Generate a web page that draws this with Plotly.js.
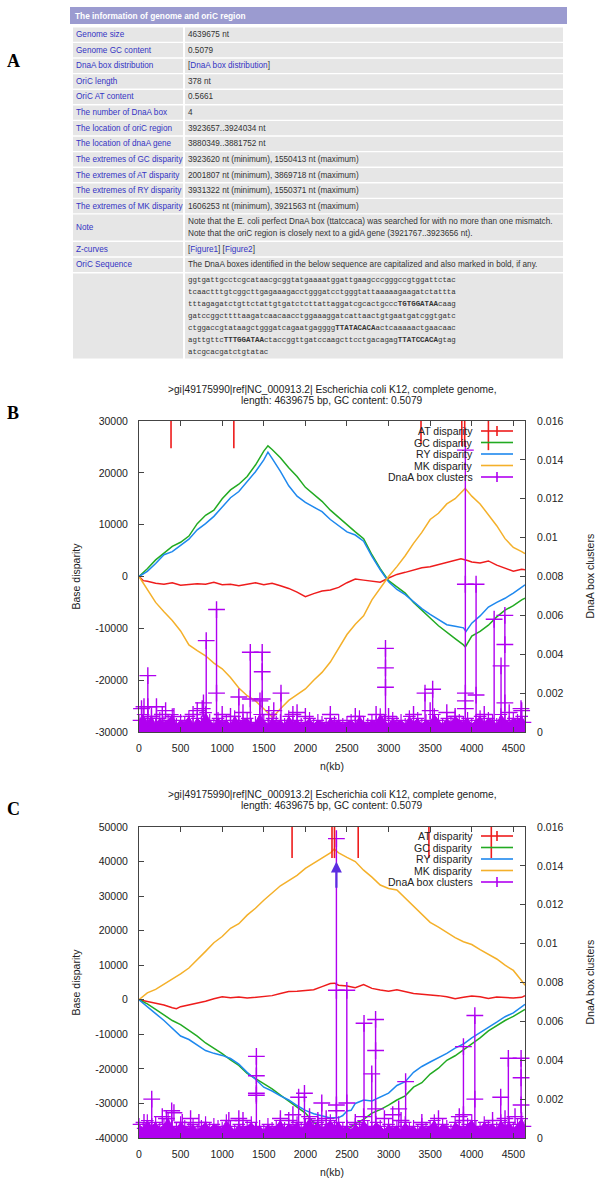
<!DOCTYPE html>
<html><head><meta charset="utf-8">
<script src="https://cdn.plot.ly/plotly-3.0.1.min.js"></script>
<style>html,body{margin:0;padding:0;background:#fff}#chart{width:600px;height:1184px}</style>
</head><body><div id="chart"></div>
<script>
// ---------------- TABLE DATA ----------------
const tableTitle = "The information of genome and oriC region";
const tableLabels = ["Genome size","Genome GC content","DnaA box distribution","OriC length","OriC AT content","The number of DnaA box","The location of oriC region","The location of dnaA gene","The extremes of GC disparity","The extremes of AT disparity","The extremes of RY disparity","The extremes of MK disparity","Note","Z-curves","OriC Sequence"];
const tableValues = ["4639675 nt","0.5079","[DnaA box distribution]","378 nt","0.5661","4","3923657..3924034 nt","3880349..3881752 nt","3923620 nt (minimum), 1550413 nt (maximum)","2001807 nt (minimum), 3869718 nt (maximum)","3931322 nt (minimum), 1550371 nt (maximum)","1606253 nt (minimum), 3921563 nt (maximum)","Note that the E. coli perfect DnaA box (ttatccaca) was searched for with no more than one mismatch.|Note that the oriC region is closely next to a gidA gene (3921767..3923656 nt).","[Figure1] [Figure2]","The DnaA boxes identified in the below sequence are capitalized and also marked in bold, if any."];
const oricSequence = ["ggtgattgcctcgcataacgcggtatgaaaatggattgaagcccgggccgtggattctac","tcaactttgtcggcttgagaaagacctgggatcctgggtattaaaaagaagatctattta","tttagagatctgttctattgtgatctcttattaggatcgcactgcccTGTGGATAAcaag","gatccggcttttaagatcaacaacctggaaaggatcattaactgtgaatgatcggtgatc","ctggaccgtataagctgggatcagaatgaggggTTATACACAactcaaaaactgaacaac","agttgttcTTTGGATAActaccggttgatccaagcttcctgacagagTTATCCACAgtag","atcgcacgatctgtatac"];

// ---------------- CHART TEXT ----------------
const chartTitle1 = "&gt;gi|49175990|ref|NC_000913.2| Escherichia coli K12, complete genome,";
const chartTitle2 = "length: 4639675 bp, GC content: 0.5079";
const seriesNames = ["AT disparity","GC disparity","RY disparity","MK disparity","DnaA box clusters"];
const xTickVals = [0,500,1000,1500,2000,2500,3000,3500,4000,4500];
const yTickB = [-30000,-20000,-10000,0,10000,20000,30000];
const yTickC = [-40000,-30000,-20000,-10000,0,10000,20000,30000,40000,50000];
const y2TickVals = [0,0.002,0.004,0.006,0.008,0.01,0.012,0.014,0.016];
const y2TickText = ["0","0.002","0.004","0.006","0.008","0.01","0.012","0.014","0.016"];

// ---------------- PANEL B DATA (x in kb) ----------------
const bAT_x = [0,50,100,200,300,400,500,600,700,800,900,1000,1100,1200,1300,1400,1500,1600,1700,1800,1900,2000,2100,2200,2300,2400,2500,2600,2700,2800,2900,3000,3100,3200,3300,3400,3500,3600,3700,3800,3870,3950,4000,4100,4200,4300,4400,4500,4600,4640];
const bAT_y = [0,-800,-900,-1300,-1500,-1200,-1700,-1600,-1400,-1500,-1100,-1600,-1500,-1800,-1500,-1200,-1600,-1300,-1800,-2300,-3000,-3900,-3300,-2800,-2600,-2100,-1200,-500,-700,-900,-1100,-300,400,800,1300,1700,1900,2300,2600,3000,3400,3100,2800,2600,3000,2200,1600,1000,1400,1300];
const bGC_x = [0,100,200,300,400,500,600,700,800,900,1000,1100,1200,1300,1400,1500,1550,1600,1700,1800,1900,2000,2100,2200,2300,2400,2500,2600,2700,2800,2900,3000,3100,3200,3300,3400,3500,3600,3700,3800,3900,3923,4000,4100,4200,4300,4400,4500,4600,4640];
const bGC_y = [0,1500,3200,4500,5800,6600,7800,10200,11800,12800,15000,16700,17800,19300,21500,24200,25200,24500,22900,21000,19300,17200,15800,14500,12800,11400,9900,8600,7300,4200,1500,-800,-2000,-3200,-5000,-6600,-8000,-9500,-10800,-12000,-13200,-13600,-11500,-10600,-9400,-7800,-6500,-5600,-4500,-4200];
const bRY_x = [0,100,200,300,400,500,600,700,800,900,1000,1100,1200,1300,1400,1500,1550,1600,1700,1800,1900,2000,2100,2200,2300,2400,2500,2600,2700,2800,2900,3000,3100,3200,3300,3400,3500,3600,3700,3800,3900,3931,4000,4100,4200,4300,4400,4500,4600,4640];
const bRY_y = [0,1000,2500,4200,4800,6000,7200,9000,10200,11600,13500,15200,16400,18200,20200,22500,24000,22800,20300,17500,15500,14300,13400,12500,11000,9800,8600,8000,6800,3900,1300,-1000,-2500,-3500,-4800,-6200,-7300,-8300,-9300,-9600,-9900,-10600,-9000,-7600,-5900,-5000,-4200,-3200,-2000,-1600];
const bMK_x = [0,100,200,300,400,500,600,700,800,900,1000,1100,1200,1300,1400,1500,1606,1700,1800,1900,2000,2100,2200,2300,2400,2500,2600,2700,2800,2900,3000,3100,3200,3300,3400,3500,3600,3700,3800,3921,4000,4100,4200,4300,4400,4500,4600,4640];
const bMK_y = [0,-2500,-5000,-6800,-8500,-10500,-13200,-14300,-15300,-16700,-17800,-19500,-21500,-23000,-24000,-25500,-27200,-25500,-23900,-22800,-21700,-20000,-18500,-16500,-13800,-11200,-9200,-7600,-4500,-2300,0,1900,4000,6400,8500,11000,12200,14000,15000,17000,15500,14000,12000,9800,7300,5600,4800,4400];
// DnaA box clusters, panel B
const bandX = [0,50,100,150,200,250,300,350,400,450,500,550,600,650,700,750,800,850,900,950,1000,1050,1100,1150,1200,1250,1300,1350,1400,1450,1500,1550,1600,1650,1700,1750,1800,1850,1900,1950,2000,2050,2100,2150,2200,2250,2300,2350,2400,2450,2500,2550,2600,2650,2700,2750,2800,2850,2900,2950,3000,3050,3100,3150,3200,3250,3300,3350,3400,3450,3500,3550,3600,3650,3700,3750,3800,3850,3900,3950,4000,4050,4100,4150,4200,4250,4300,4350,4400,4450,4500,4550,4600,4640];
const bBand = [0.0006,0.0009,0.0005,0.0008,0.0004,0.0007,0.0005,0.0006,0.0009,0.0004,0.0006,0.0005,0.0008,0.0004,0.0007,0.0005,0.0010,0.0006,0.0004,0.0007,0.0005,0.0006,0.0004,0.0008,0.0005,0.0006,0.0007,0.0004,0.0005,0.0009,0.0006,0.0004,0.0007,0.0005,0.0006,0.0004,0.0008,0.0005,0.0006,0.0004,0.0005,0.0007,0.0004,0.0006,0.0005,0.0004,0.0007,0.0005,0.0006,0.0004,0.0005,0.0006,0.0004,0.0008,0.0005,0.0004,0.0006,0.0005,0.0009,0.0006,0.0004,0.0007,0.0005,0.0006,0.0004,0.0008,0.0005,0.0007,0.0004,0.0006,0.0005,0.0009,0.0006,0.0004,0.0007,0.0005,0.0008,0.0006,0.0005,0.0007,0.0004,0.0006,0.0008,0.0005,0.0007,0.0006,0.0004,0.0009,0.0006,0.0005,0.0007,0.0006,0.0008,0.0005];
const bSpike_x = [106,210,775,808,932,1200,1338,1454,1481,1707,2963,3438,3530,3923,4052,4269,4352,4398,4592];
const bSpike_y = [0.0029,0.0013,0.0015,0.0047,0.0063,0.0018,0.0041,0.0016,0.0041,0.0020,0.0043,0.0020,0.0022,0.0145,0.0076,0.0058,0.0034,0.0060,0.0012];
const bCross_x = [106,106,1481,1481,1338,932,2963,2963,3923,3923,3923,3923,4052,4398,4398,30,60,150,280,320,420,650,700,760,1000,1100,1250,1560,1620,1850,1900,2000,2300,2600,2850,3000,3300,3500,3700,3800,4150,4450,4600];
const bCross_y = [0.0013,0.0007,0.0031,0.0017,0.0017,0.0020,0.0033,0.0023,0.0076,0.0020,0.0016,0.0012,0.0019,0.0045,0.0015,0.0012,0.0013,0.0008,0.0009,0.0011,0.0008,0.0009,0.0011,0.0012,0.0009,0.0008,0.0010,0.0009,0.0011,0.0009,0.0010,0.0008,0.0009,0.0008,0.0009,0.0008,0.0009,0.0011,0.0010,0.0008,0.0009,0.0010,0.0011];
const bTopMark_x = [385,1140,3390,3880,3915,4200];
const bTopMark_low = [0.0146,0.0146,0.0148,0.0147,0.0147,0.0145];

// ---------------- PANEL C DATA (x in kb) ----------------
const cAT_x = [0,100,200,300,400,450,500,600,700,800,900,1000,1100,1200,1300,1400,1500,1600,1700,1800,1900,2000,2100,2200,2300,2350,2400,2500,2600,2700,2800,2900,3000,3100,3200,3300,3400,3500,3600,3700,3800,3900,4000,4100,4200,4300,4400,4500,4600,4640];
const cAT_y = [0,-500,-800,-1500,-2300,-2600,-2000,-1500,-1000,-400,300,900,600,800,500,700,900,1200,1800,2400,2500,2700,2900,3800,4700,4800,4200,4000,3500,4400,3300,2800,2500,2900,2300,1800,1600,1500,1200,900,300,700,1100,900,400,800,600,500,700,1200];
const cGC_x = [0,100,200,300,400,500,600,700,800,900,1000,1100,1200,1300,1400,1500,1600,1700,1800,1900,2000,2100,2200,2300,2346,2400,2500,2600,2700,2800,2900,3000,3100,3200,3300,3400,3500,3600,3700,3800,3900,4000,4100,4200,4300,4400,4500,4600,4640];
const cGC_y = [0,-1200,-2800,-4500,-6000,-7200,-8800,-10500,-12500,-14000,-15600,-17400,-19000,-21300,-22800,-24400,-25800,-27600,-29300,-31200,-32800,-35500,-37000,-38500,-39000,-38800,-37800,-35800,-34600,-32800,-31800,-30500,-29000,-27800,-25300,-24000,-21500,-19800,-17500,-16200,-14500,-12800,-11000,-9000,-7500,-6000,-4800,-3300,-2800];
const cRY_x = [0,100,200,300,400,500,600,700,800,900,1000,1100,1200,1300,1400,1500,1600,1700,1800,1900,2000,2100,2200,2300,2400,2450,2500,2550,2600,2700,2800,2900,3000,3100,3200,3300,3400,3500,3600,3700,3800,3900,4000,4100,4200,4300,4400,4500,4600,4640];
const cRY_y = [0,-1900,-4000,-6000,-8300,-10500,-11500,-13000,-14700,-15500,-16100,-17000,-18600,-21000,-23000,-25300,-26400,-27800,-29000,-30600,-32000,-33000,-33500,-34200,-34100,-33500,-32200,-32000,-30000,-29000,-29300,-28200,-27000,-24800,-23700,-21000,-19300,-18000,-16800,-15500,-14000,-12800,-11000,-9400,-8000,-6500,-4900,-3800,-2000,-1300];
const cMK_x = [0,100,200,300,400,500,600,700,800,900,1000,1100,1200,1300,1400,1500,1600,1700,1800,1900,2000,2100,2200,2300,2346,2400,2500,2600,2700,2800,2900,3000,3100,3200,3300,3400,3500,3600,3700,3800,3900,4000,4100,4200,4300,4400,4500,4600,4640];
const cMK_y = [0,2000,3000,4500,5800,7500,9200,11500,14000,16500,18300,20700,22000,24500,26500,28800,31000,33000,34500,36000,38000,39500,41000,42500,43600,42500,41200,40000,37500,35500,33200,32200,31800,29500,27200,25000,22400,21000,19500,18000,16800,16000,14500,13200,11800,10000,8500,5500,4200];
const cBand = [0.0007,0.0005,0.0009,0.0006,0.0008,0.0005,0.0007,0.0010,0.0006,0.0005,0.0008,0.0006,0.0005,0.0007,0.0004,0.0006,0.0008,0.0005,0.0007,0.0006,0.0005,0.0009,0.0006,0.0004,0.0007,0.0005,0.0006,0.0008,0.0005,0.0006,0.0004,0.0007,0.0005,0.0006,0.0009,0.0005,0.0007,0.0006,0.0008,0.0005,0.0007,0.0010,0.0006,0.0008,0.0005,0.0007,0.0009,0.0006,0.0008,0.0005,0.0006,0.0004,0.0007,0.0005,0.0009,0.0006,0.0005,0.0008,0.0006,0.0004,0.0007,0.0005,0.0006,0.0004,0.0008,0.0005,0.0006,0.0004,0.0007,0.0005,0.0006,0.0009,0.0005,0.0007,0.0006,0.0004,0.0008,0.0006,0.0005,0.0007,0.0009,0.0006,0.0005,0.0008,0.0006,0.0007,0.0005,0.0009,0.0006,0.0008,0.0005,0.0007,0.0010,0.0006];
const cSpike_x = [153,393,1411,1919,1989,2197,2373,2498,2705,2798,2844,3122,3205,3900,4037,4348,4440,4593];
const cSpike_y = [0.0020,0.0014,0.0042,0.0021,0.0023,0.0018,0.0154,0.0076,0.0059,0.0033,0.0061,0.0015,0.0029,0.0047,0.0063,0.0021,0.0041,0.0041];
const cCross_x = [153,1411,1411,1411,2373,2373,2373,2844,2844,4037,4593,4593,3900,3900,2498,60,280,330,420,520,620,720,1080,1200,1250,1700,1800,1850,2050,2150,2250,2600,2700,2950,3050,3150,3400,3600,3850,4250,4400,4520];
const cCross_y = [0.0006,0.0032,0.0023,0.0022,0.0076,0.0017,0.0014,0.0045,0.0015,0.0020,0.0031,0.0017,0.0012,0.0009,0.0018,0.0008,0.0011,0.0010,0.0013,0.0008,0.0010,0.0008,0.0009,0.0010,0.0009,0.0010,0.0009,0.0012,0.0011,0.0009,0.0010,0.0008,0.0011,0.0010,0.0012,0.0009,0.0008,0.0010,0.0011,0.0009,0.0010,0.0011];
const cTopMark_x = [1840,2320,2350,2635,3485,4235];
const cTopMark_low = [0.0144,0.0144,0.0144,0.0144,0.0144,0.0144];
const cArrow = {x:2373, from:32000, to:40000};

// ---------------- STYLE / LAYOUT HELPERS ----------------
const W = 600, H = 1184;
const PX = p => p / W, PY = p => 1 - p / H;
const SANS = '"Liberation Sans", Arial, sans-serif';
const MONO = '"Liberation Mono", "DejaVu Sans Mono", monospace';
const SERIF = '"Liberation Serif", "DejaVu Serif", serif';
const COLORS = ['#ee1c1c', '#22aa22', '#1e88ee', '#f4b02a', '#b000f0'];
const LINK = '#3434c4';
const CELL = '#e6e6e6';
const TFONT = 8.2;
const shapes = [], annotations = [];

function rect(x0, y0, x1, y1, color) {
  shapes.push({type:'rect', xref:'paper', yref:'paper', x0:PX(x0), x1:PX(x1), y0:PY(y1), y1:PY(y0), fillcolor:color, line:{width:0}, layer:'below'});
}
function seg(x0, y0, x1, y1, color, w) {
  shapes.push({type:'line', xref:'paper', yref:'paper', x0:PX(x0), x1:PX(x1), y0:PY(y0), y1:PY(y1), line:{color:color, width:w||1.5}});
}
function txt(t, x, y, opts) {
  annotations.push(Object.assign({text:t, x:PX(x), y:PY(y), xref:'paper', yref:'paper', showarrow:false, xanchor:'left', yanchor:'middle', borderpad:0, font:{family:SANS, size:TFONT, color:'#333'}}, opts || {}));
}
const linkify = s => s.replace(/\[([^\]]+)\]/g, '[<span style="color:' + LINK + '">$1</span>]');
const boldCaps = s => s.replace(/([A-Z]+)/g, '<b>$1</b>');

// ---------------- TABLE ----------------
rect(70, 7, 567, 24, '#9b9bd0');
txt('<b>' + tableTitle + '</b>', 74, 15.5, {font:{family:SANS, size:8.3, color:'#ffffff'}});
const rowBoxes = [];
for (let i = 0; i < 12; i++) rowBoxes.push([27.5 + i * 15.6, 41.7 + i * 15.6]);
rowBoxes.push([214.6, 240.4]);
rowBoxes.push([242.0, 256.2]);
rowBoxes.push([257.8, 272.0]);
tableLabels.forEach((lab, i) => {
  const [t, b] = rowBoxes[i];
  const c = (t + b) / 2;
  rect(73, t, 183, b, CELL);
  rect(185, t, 563, b, CELL);
  txt(lab, 75, c, {font:{family:SANS, size:TFONT, color:LINK}});
  const parts = tableValues[i].split('|');
  if (parts.length === 1) {
    txt(linkify(parts[0]), 187, c);
  } else {
    parts.forEach((p, k) => txt(p, 187, c - 5.6 + k * 11.2));
  }
});
rect(73, 273.6, 183, 358.6, CELL);
rect(185, 273.6, 563, 358.6, CELL);
oricSequence.forEach((s, k) => txt(boldCaps(s), 187, 280.3 + k * 12.0, {font:{family:MONO, size:7.45, color:'#333'}}));

// ---------------- PANEL LABELS ----------------
txt('<b>A</b>', 6, 61, {font:{family:SERIF, size:18, color:'#000'}});
txt('<b>B</b>', 6, 413, {font:{family:SERIF, size:18, color:'#000'}});
txt('<b>C</b>', 6, 809, {font:{family:SERIF, size:18, color:'#000'}});

// ---------------- PLOT GEOMETRY ----------------
const plotL = 139, plotR = 525;
const panels = [
  {top:421, bottom:732, title:389, xlab:766, legendTop:431},
  {top:827, bottom:1138, title:794, xlab:1172, legendTop:836}
];
panels.forEach(p => {
  const cx = (plotL + plotR) / 2, cy = (p.top + p.bottom) / 2;
  txt(chartTitle1, cx, p.title, {xanchor:'center', font:{family:SANS, size:10.2, color:'#222'}});
  txt(chartTitle2, cx, p.title + 11.5, {xanchor:'center', font:{family:SANS, size:10.2, color:'#222'}});
  txt('n(kb)', cx, p.xlab, {xanchor:'center', font:{family:SANS, size:10.5, color:'#222'}});
  txt('Base disparity', 75, cy, {xanchor:'center', textangle:-90, font:{family:SANS, size:10.5, color:'#222'}});
  txt('DnaA box clusters', 589, cy, {xanchor:'center', textangle:-90, font:{family:SANS, size:10.5, color:'#222'}});
  seriesNames.forEach((name, k) => {
    const y = p.legendTop + k * 11.5;
    txt(name, 474, y, {xanchor:'right', font:{family:SANS, size:10.5, color:'#222'}});
    seg(481, y, 513, y, COLORS[k], 1.6);
    if (k === 0 || k === 4) seg(497, y - 5, 497, y + 5, COLORS[k], 1.6);
  });
});

// ---------------- TRACES ----------------
function line(x, y, color, xa, ya) {
  return {type:'scatter', mode:'lines', x:x, y:y, xaxis:xa, yaxis:ya, line:{color:color, width:1.5}, hoverinfo:'skip', showlegend:false};
}
function impulses(xs, lows, highs) {
  const X = [], Y = [];
  xs.forEach((x, i) => { X.push(x, x, null); Y.push(lows === null ? 0 : lows[i], highs[i], null); });
  return [X, Y];
}
function dnaaTraces(bx, by, sx, sy, cx, cy, xa, ya) {
  const P = COLORS[4];
  const [ix, iy] = impulses(sx, null, sy);
  return [
    {type:'scatter', mode:'lines+markers', x:bx, y:by, xaxis:xa, yaxis:ya, fill:'tozeroy', fillcolor:P,
     line:{color:P, width:1}, marker:{symbol:'cross-thin-open', size:9, color:P, line:{color:P, width:1.2}},
     cliponaxis:false, hoverinfo:'skip', showlegend:false},
    {type:'scatter', mode:'lines', x:ix, y:iy, xaxis:xa, yaxis:ya, line:{color:P, width:1.4}, hoverinfo:'skip', showlegend:false},
    {type:'scatter', mode:'markers', x:sx.concat(cx), y:sy.concat(cy), xaxis:xa, yaxis:ya,
     marker:{symbol:'cross-thin-open', size:12, color:P, line:{color:P, width:1.4}}, cliponaxis:false, hoverinfo:'skip', showlegend:false}
  ];
}
function topMarks(xs, lows, xa, ya) {
  const [ix, iy] = impulses(xs, lows, xs.map(() => 0.016));
  return {type:'scatter', mode:'lines', x:ix, y:iy, xaxis:xa, yaxis:ya, line:{color:COLORS[0], width:1.6}, hoverinfo:'skip', showlegend:false};
}

const traces = [
  line(bAT_x, bAT_y, COLORS[0], 'x', 'y'),
  line(bGC_x, bGC_y, COLORS[1], 'x', 'y'),
  line(bRY_x, bRY_y, COLORS[2], 'x', 'y'),
  line(bMK_x, bMK_y, COLORS[3], 'x', 'y'),
  ...dnaaTraces(bandX, bBand, bSpike_x, bSpike_y, bCross_x, bCross_y, 'x', 'y2'),
  topMarks(bTopMark_x, bTopMark_low, 'x', 'y2'),
  line(cAT_x, cAT_y, COLORS[0], 'x2', 'y3'),
  line(cGC_x, cGC_y, COLORS[1], 'x2', 'y3'),
  line(cRY_x, cRY_y, COLORS[2], 'x2', 'y3'),
  line(cMK_x, cMK_y, COLORS[3], 'x2', 'y3'),
  ...dnaaTraces(bandX, cBand, cSpike_x, cSpike_y, cCross_x, cCross_y, 'x2', 'y4'),
  topMarks(cTopMark_x, cTopMark_low, 'x2', 'y4')
];

annotations.push({xref:'x2', yref:'y3', axref:'x2', ayref:'y3', x:cArrow.x, y:cArrow.to, ax:cArrow.x, ay:cArrow.from,
  showarrow:true, arrowhead:2, arrowsize:1, arrowwidth:2.2, arrowcolor:'#5a2ee0', text:''});

// ---------------- AXES ----------------
const AX = '#444';
const tickFont = {family:SANS, size:10.5, color:'#222'};
function xAxis(anchor, p) {
  return {domain:[PX(plotL), PX(plotR)], anchor:anchor, range:[0, 4640], tickvals:xTickVals, ticktext:xTickVals.map(String),
    ticks:'inside', ticklen:5, tickcolor:AX, showline:true, linecolor:AX, linewidth:1, mirror:'ticks',
    showgrid:false, zeroline:false, tickfont:tickFont, ticklabelstandoff:6, fixedrange:true};
}
function yAxis(anchor, p, range, vals) {
  return {domain:[PY(p.bottom), PY(p.top)], anchor:anchor, range:range, tickvals:vals, ticktext:vals.map(String),
    ticks:'inside', ticklen:5, tickcolor:AX, showline:true, linecolor:AX, linewidth:1,
    showgrid:false, zeroline:false, tickfont:tickFont, ticklabelstandoff:8, fixedrange:true};
}
function y2Axis(anchor, over) {
  return {overlaying:over, side:'right', anchor:anchor, range:[0, 0.016], tickvals:y2TickVals, ticktext:y2TickText,
    ticks:'inside', ticklen:5, tickcolor:AX, showline:true, linecolor:AX, linewidth:1,
    showgrid:false, zeroline:false, tickfont:tickFont, ticklabelstandoff:9, fixedrange:true};
}

const layout = {
  width:W, height:H, margin:{l:0, r:0, t:0, b:0}, paper_bgcolor:'#ffffff', plot_bgcolor:'rgba(0,0,0,0)',
  showlegend:false, font:{family:SANS, color:'#222'},
  xaxis: xAxis('y', panels[0]),
  yaxis: yAxis('x', panels[0], [-30000, 30000], yTickB),
  yaxis2: y2Axis('x', 'y'),
  xaxis2: xAxis('y3', panels[1]),
  yaxis3: yAxis('x2', panels[1], [-40000, 50000], yTickC),
  yaxis4: y2Axis('x2', 'y3'),
  shapes: shapes, annotations: annotations
};

Plotly.newPlot('chart', traces, layout, {displayModeBar:false, staticPlot:true});
</script></body></html>
